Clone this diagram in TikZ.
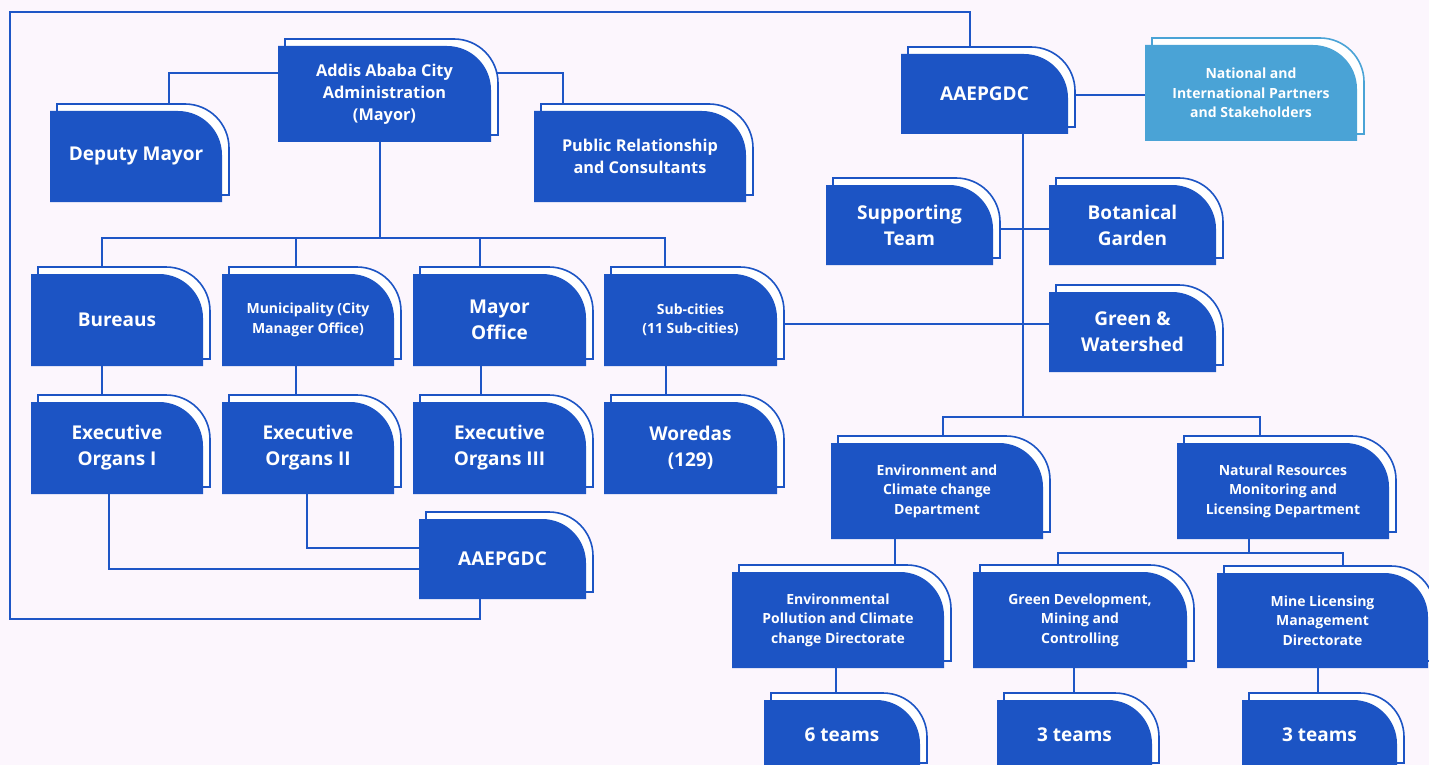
\documentclass[tikz,border=0pt]{standalone}
\usepackage{fontspec}
\setmainfont{Open Sans}
\definecolor{bgc}{RGB}{252,246,253}
\definecolor{boxc}{RGB}{28,84,196}
\definecolor{lboxc}{RGB}{74,163,214}
\definecolor{linec}{RGB}{30,86,198}
\pgfdeclarelayer{bg}
\pgfsetlayers{bg,main}
\tikzset{
 conn/.style={draw=linec, line width=2pt},
 txt/.style={text=white, align=center, inner sep=0pt},
 big/.style={font=\bfseries\fontsize{19}{26}\selectfont},
 mid/.style={font=\bfseries\fontsize{16.3}{22}\selectfont},
 sml/.style={font=\bfseries\fontsize{14}{19.5}\selectfont},
}
% name, x0, y0, x1, y1, colour, text style, text
\newcommand\obox[8]{%
  \draw[line width=1.6pt, draw=#6, fill=white]
    (#2+7,#3) -- (#2+7,#3-7) -- (#4+7-44,#3-7)
    .. controls (#4+7-19.7,#3-7) and (#4+7,#3-7+19.7) .. (#4+7,#3-7+44)
    -- (#4+7,#5-7) -- (#4,#5-7);
  \fill[#6] (#2,#5) -- (#2,#3) -- (#4-44,#3)
    .. controls (#4-19.7,#3) and (#4,#3+19.7) .. (#4,#3+44)
    -- (#4,#5) -- cycle;
  \node[txt,#7, minimum width={(#4-#2)*1pt}, minimum height={(#5-#3)*1pt}]
    (#1) at ({(#2+#4)/2},{(#3+#5)/2}) {#8};
}
\begin{document}
\begin{tikzpicture}[x=1pt,y=-1pt]
\useasboundingbox (0,0) rectangle (1429,765);

\obox{mayor}{278}{46}{491}{142}{boxc}{mid}{Addis Ababa City\\Administration\\(Mayor)}
\obox{deputy}{50}{111}{222}{202}{boxc}{big}{Deputy Mayor}
\obox{pr}{534}{111}{746}{202}{boxc}{mid}{Public Relationship\\and Consultants}
\obox{aae1}{901}{54}{1068}{134}{boxc}{big}{AAEPGDC}
\obox{partners}{1145}{45}{1357}{141}{lboxc}{sml}{National and\\International Partners\\and Stakeholders}
\obox{support}{826}{185}{993}{265}{boxc}{big}{Supporting\\Team}
\obox{botan}{1049}{185}{1216}{265}{boxc}{big}{Botanical\\Garden}
\obox{green}{1049}{292}{1216}{372}{boxc}{big}{Green \&\\Watershed}
\obox{bureaus}{31}{274}{203}{366}{boxc}{big}{Bureaus}
\obox{munic}{222}{274}{394}{366}{boxc}{sml}{Municipality (City\\Manager Office)}
\obox{moffice}{413}{274}{586}{366}{boxc}{big}{Mayor\\Office}
\obox{subc}{604}{274}{777}{366}{boxc}{sml}{Sub-cities\\(11 Sub-cities)}
\obox{exec1}{31}{402}{203}{494}{boxc}{big}{Executive\\Organs I}
\obox{exec2}{222}{402}{394}{494}{boxc}{big}{Executive\\Organs II}
\obox{exec3}{413}{402}{586}{494}{boxc}{big}{Executive\\Organs III}
\obox{woredas}{604}{402}{777}{494}{boxc}{big}{Woredas\\(129)}
\obox{aae2}{419}{519}{586}{599}{boxc}{big}{AAEPGDC}
\obox{envd}{831}{443}{1043}{539}{boxc}{sml}{Environment and\\Climate change\\Department}
\obox{natd}{1177}{443}{1389}{539}{boxc}{sml}{Natural Resources\\Monitoring and\\Licensing Department}
\obox{envp}{732}{572}{944}{668}{boxc}{sml}{Environmental\\Pollution and Climate\\change Directorate}
\obox{gdev}{973}{572}{1187}{668}{boxc}{sml}{Green Development,\\Mining and\\Controlling}
\obox{mine}{1217}{573}{1428}{668}{boxc}{sml}{Mine Licensing\\Management\\Directorate}
\obox{t1}{764}{700}{920}{770}{boxc}{big}{6 teams}
\obox{t2}{997}{700}{1152}{770}{boxc}{big}{3 teams}
\obox{t3}{1242}{700}{1397}{770}{boxc}{big}{3 teams}

\begin{pgfonlayer}{bg}
\fill[bgc] (0,0) rectangle (1429,765);
% city administration
\coordinate (jd) at (169,73);
\draw[conn] (mayor.west |- jd) -- (jd) -- (jd |- deputy.north);
\coordinate (jp) at (563,73);
\draw[conn] (mayor.east |- jp) -- (jp) -- (jp |- pr.north);
\coordinate (jm) at (380,238);
\draw[conn] (jm |- mayor.south) -- (jm);
\coordinate (b1) at (102,238);
\coordinate (b2) at (296,238);
\coordinate (b3) at (480,238);
\coordinate (b4) at (665,238);
\draw[conn] (b1 |- bureaus.north) -- (b1) -- (b4) -- (b4 |- subc.north);
\draw[conn] (b2) -- (b2 |- munic.north);
\draw[conn] (b3) -- (b3 |- moffice.north);
\coordinate (v1) at (102,0);
\coordinate (v2) at (296,0);
\coordinate (v3) at (481,0);
\coordinate (v4) at (666,0);
\draw[conn] (v1 |- bureaus.south) -- (v1 |- exec1.north);
\draw[conn] (v2 |- munic.south) -- (v2 |- exec2.north);
\draw[conn] (v3 |- moffice.south) -- (v3 |- exec3.north);
\draw[conn] (v4 |- subc.south) -- (v4 |- woredas.north);
\coordinate (e1) at (109,569);
\draw[conn] (e1 |- exec1.south) -- (e1) -- (aae2.west |- e1);
\coordinate (e2) at (307,548);
\draw[conn] (e2 |- exec2.south) -- (e2) -- (aae2.west |- e2);
% frame loop to AAEPGDC
\coordinate (f1) at (480,619);
\coordinate (f2) at (10,619);
\coordinate (f3) at (10,12);
\coordinate (f4) at (970,12);
\draw[conn] (f1 |- aae2.south) -- (f1) -- (f2) -- (f3) -- (f4) -- (f4 |- aae1.north);
% AAEPGDC
\coordinate (pa) at (0,95);
\draw[conn] (aae1.east |- pa) -- (partners.west |- pa);
\coordinate (sp) at (1023,417);
\draw[conn] (sp |- aae1.south) -- (sp);
\coordinate (sb) at (0,229);
\draw[conn] (support.east |- sb) -- (botan.west |- sb);
\coordinate (sg) at (0,324);
\draw[conn] (subc.east |- sg) -- (green.west |- sg);
\coordinate (d1) at (943,417);
\coordinate (d2) at (1260,417);
\draw[conn] (d1 |- envd.north) -- (d1) -- (d2) -- (d2 |- natd.north);
\coordinate (ev) at (895,0);
\draw[conn] (ev |- envd.south) -- (ev |- envp.north);
\coordinate (nv) at (1249,553);
\draw[conn] (nv |- natd.south) -- (nv);
\coordinate (g1) at (1058,553);
\coordinate (g2) at (1343,553);
\draw[conn] (g1 |- gdev.north) -- (g1) -- (g2) -- (g2 |- mine.north);
\coordinate (tv1) at (836,0);
\coordinate (tv2) at (1074,0);
\coordinate (tv3) at (1318,0);
\draw[conn] (tv1 |- envp.south) -- (tv1 |- t1.north);
\draw[conn] (tv2 |- gdev.south) -- (tv2 |- t2.north);
\draw[conn] (tv3 |- mine.south) -- (tv3 |- t3.north);
\end{pgfonlayer}
\end{tikzpicture}
\end{document}
